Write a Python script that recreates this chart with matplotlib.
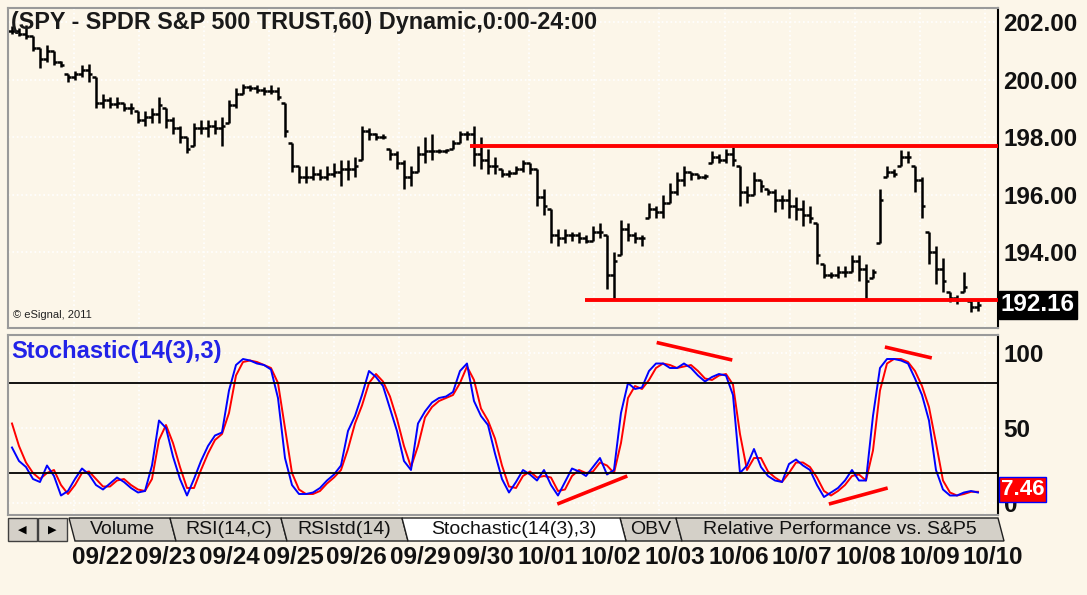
import numpy as np
import matplotlib.pyplot as plt
from matplotlib.patches import Polygon, Rectangle

# hourly SPY bars
high = [201.85, 201.8, 201.9, 201.5, 201.1, 201.2, 201.0, 200.65, 200.2, 200.3,
        200.5, 200.55, 200.1, 199.5, 199.4, 199.4, 199.2, 199.2, 198.9, 198.9,
        199.0, 199.4, 199.0, 198.7, 198.4, 198.0, 198.5, 198.6, 198.6, 198.6,
        198.7, 199.3, 199.7, 199.85, 199.8, 199.8, 199.75, 199.8, 199.75, 199.2,
        197.8, 197.0, 197.0, 197.0, 196.9, 197.0, 197.1, 197.2, 197.2, 197.3,
        198.4, 198.3, 198.15, 198.1, 197.6, 197.5, 197.2, 197.0, 197.7, 198.0,
        198.1, 197.6, 197.6, 197.9, 198.2, 198.2, 198.4, 198.0, 197.6, 197.3,
        196.9, 196.85, 197.0, 197.2, 197.1, 196.9, 196.2, 195.5, 194.8, 194.8,
        194.7, 194.7, 194.6, 194.9, 195.0, 194.6, 194.0, 195.1, 195.0, 194.7,
        194.6, 195.7, 195.6, 196.0, 196.4, 196.8, 197.0, 196.8, 196.7, 196.7,
        197.5, 197.4, 197.6, 197.65, 197.0, 196.3, 196.8, 196.5, 196.2, 196.2,
        196.0, 196.2, 195.9, 195.8, 195.6, 195.0, 193.6, 193.3, 193.5, 193.5,
        193.9, 193.9, 193.6, 193.4, 196.2, 197.0, 196.9, 197.55, 197.5, 197.0,
        196.6, 194.7, 194.2, 193.8, 192.6, 192.5, 193.3, 192.3, 192.3]
low = [201.6, 201.5, 201.4, 201.0, 200.4, 200.6, 200.5, 200.45, 199.9, 200.0,
       200.1, 199.9, 199.0, 199.0, 199.0, 199.0, 198.9, 198.8, 198.5, 198.4,
       198.5, 198.5, 198.3, 198.1, 197.8, 197.45, 197.7, 198.1, 198.0, 198.1,
       197.7, 198.5, 199.0, 199.5, 199.6, 199.55, 199.45, 199.5, 199.3, 198.0,
       196.8, 196.4, 196.4, 196.5, 196.5, 196.5, 196.6, 196.3, 196.5, 196.6,
       197.2, 197.9, 197.9, 197.95, 197.2, 196.9, 196.2, 196.3, 196.8, 197.1,
       197.2, 197.45, 197.45, 197.6, 197.8, 197.9, 197.0, 196.9, 196.7, 196.7,
       196.6, 196.6, 196.7, 196.8, 196.7, 195.6, 195.3, 194.3, 194.2, 194.3,
       194.4, 194.3, 194.3, 194.4, 194.5, 192.7, 192.35, 193.9, 194.4, 194.3,
       194.2, 195.2, 195.2, 195.2, 195.7, 196.0, 196.3, 196.5, 196.55, 196.55,
       197.1, 197.1, 197.1, 197.0, 195.6, 195.7, 196.0, 196.1, 196.0, 195.4,
       195.5, 195.2, 195.1, 194.9, 195.0, 193.6, 193.1, 193.1, 193.1, 193.15,
       193.3, 193.0, 192.35, 193.1, 194.3, 196.6, 196.6, 197.0, 197.1, 196.1,
       195.2, 193.6, 192.9, 192.6, 192.25, 192.2, 192.6, 191.9, 191.95]
close = [201.7, 201.6, 201.5, 201.1, 200.7, 201.0, 200.6, 200.5, 200.1, 200.2,
         200.35, 200.2, 199.2, 199.3, 199.15, 199.2, 199.0, 199.0, 198.6, 198.7,
         198.8, 199.1, 198.6, 198.3, 198.0, 197.6, 198.3, 198.3, 198.4, 198.3,
         198.4, 199.1, 199.5, 199.75, 199.7, 199.65, 199.6, 199.6, 199.4, 198.2,
         197.0, 196.6, 196.6, 196.7, 196.6, 196.7, 196.8, 196.9, 196.9, 197.0,
         198.2, 198.1, 198.0, 198.0, 197.4, 197.1, 196.6, 196.8, 197.4, 197.5,
         197.5, 197.5, 197.55, 197.8, 198.1, 198.1, 197.4, 197.2, 197.0, 197.0,
         196.7, 196.75, 196.9, 197.1, 196.9, 195.9, 195.6, 194.6, 194.5, 194.6,
         194.6, 194.5, 194.4, 194.7, 194.7, 193.2, 193.7, 194.8, 194.6, 194.5,
         194.5, 195.5, 195.4, 195.7, 196.1, 196.5, 196.8, 196.7, 196.6, 196.65,
         197.3, 197.2, 197.4, 197.2, 196.1, 196.0, 196.5, 196.3, 196.1, 195.8,
         195.8, 195.6, 195.5, 195.3, 195.2, 193.9, 193.2, 193.2, 193.3, 193.3,
         193.7, 193.4, 193.0, 193.3, 195.8, 196.8, 196.7, 197.3, 197.3, 196.5,
         195.6, 194.0, 193.4, 193.0, 192.4, 192.35, 192.8, 192.1, 192.16]

# Stochastic(14(3),3): %K blue, %D red
stoch_k = [37, 28, 24, 16, 14, 25, 18, 5, 8, 16, 23, 19, 12, 9, 13, 17, 14, 10, 7, 8,
           25, 55, 50, 31, 16, 5, 16, 28, 38, 45, 47, 75, 92, 96, 95, 93, 92, 89, 70, 30,
           12, 6, 6, 7, 10, 15, 19, 25, 48, 58, 72, 88, 84, 78, 63, 48, 28, 22, 53, 61,
           67, 70, 71, 74, 88, 93, 68, 58, 52, 33, 16, 7, 14, 22, 19, 15, 22, 12, 5, 14,
           23, 21, 18, 24, 30, 19, 22, 60, 80, 76, 77, 88, 93, 93, 90, 90, 93, 90, 85, 81,
           84, 86, 85, 72, 20, 25, 36, 24, 18, 15, 14, 26, 29, 25, 22, 12, 4, 7, 10, 15,
           22, 15, 15, 58, 90, 96, 96, 95, 93, 83, 72, 55, 22, 9, 5, 5, 7, 8, 7]
stoch_d = [53, 38, 27, 20, 16, 20, 22, 12, 6, 12, 20, 21, 16, 11, 11, 15, 16, 12, 9, 8,
           16, 42, 52, 40, 24, 10, 10, 22, 33, 42, 46, 60, 85, 94, 95, 94, 92, 90, 80, 50,
           20, 9, 6, 6, 8, 13, 17, 22, 36, 53, 65, 80, 86, 81, 71, 56, 38, 24, 38, 57,
           64, 68, 70, 72, 80, 91, 82, 63, 55, 43, 25, 11, 10, 18, 21, 17, 18, 17, 8, 9,
           18, 22, 20, 21, 27, 25, 20, 40, 70, 78, 76, 82, 90, 93, 92, 90, 91, 92, 88, 83,
           82, 85, 86, 79, 46, 22, 30, 30, 21, 17, 14, 20, 27, 27, 24, 17, 8, 5, 8, 12,
           18, 19, 15, 35, 75, 93, 96, 96, 94, 88, 78, 64, 40, 15, 7, 5, 6, 7.5, 7.46]

price_ticks = [202, 200, 198, 196, 194]
stoch_ticks = [100, 50, 0]
dates = ['09/22', '09/23', '09/24', '09/25', '09/26', '09/29', '09/30', '10/01',
         '10/02', '10/03', '10/06', '10/07', '10/08', '10/09', '10/10']
tabs = ['Volume', 'RSI(14,C)', 'RSIstd(14)', 'Stochastic(14(3),3)', 'OBV',
        'Relative Performance vs. S&P5']
tab_edges = [69, 170, 281, 402, 620, 676, 998]

# hand drawn lines
levels = [197.69, 192.33]
level_start = [65.4, 81.9]
div_x = [(77.9, 87.9), (92.1, 102.9), (116.7, 125.1), (124.7, 131.4)]
div_y = [(-0.7, 18), (107, 95.3), (-0.7, 10), (104, 96.7)]

bg = '#fcf6e9'
W, H = 1087, 595
fig = plt.figure(figsize=(W / 100, H / 100), dpi=100, facecolor=bg)

def fx(x):
    return x / W

def fy(y):
    return 1 - y / H

ax1 = fig.add_axes([fx(8), fy(328), 990 / W, 320 / H], facecolor=bg)
ax2 = fig.add_axes([fx(8), fy(515), 990 / W, 180 / H], facecolor=bg)

n = len(close)
idx = np.arange(n)
opens = np.clip(np.r_[close[0], close[:-1]], low, high)
xmax = 140.86

# price bars
ax1.vlines(idx, low, high, color='black', lw=1.8)
ax1.hlines(close, idx, idx + 0.5, color='black', lw=1.8)
ax1.hlines(opens, idx - 0.5, idx, color='black', lw=1.8)
for lv, s in zip(levels, level_start):
    ax1.hlines(lv, s, xmax, color='#ff0000', lw=2.8, zorder=3)
ax1.set_xlim(-0.57, xmax)
ax1.set_ylim(191.36, 202.49)

# stochastic
ax2.plot(idx, stoch_d, color='#ff0000', lw=1.4)
ax2.plot(idx, stoch_k, color='#0000ff', lw=1.4)
ax2.axhline(80, color='black', lw=1.3)
ax2.axhline(20, color='black', lw=1.3)
for (x0, x1), (y0, y1) in zip(div_x, div_y):
    ax2.plot([x0, x1], [y0, y1], color='#ff0000', lw=2.6, solid_capstyle='butt')
ax2.set_xlim(-0.57, xmax)
ax2.set_ylim(-8, 112)

for ax, ticks, fmt in [(ax1, price_ticks, '{:.2f}'), (ax2, stoch_ticks, '{:d}')]:
    ax.yaxis.tick_right()
    ax.set_yticks(ticks)
    ax.set_yticklabels([fmt.format(t) for t in ticks], fontsize=17.5,
                       fontweight='bold', family='Liberation Sans', color='#111111')
    ax.tick_params(axis='y', length=0, pad=4)
    ax.set_xticks(np.arange(-0.5, xmax, 9.3))
    ax.tick_params(axis='x', length=0, labelbottom=False)
    ax.grid(True, color='white', ls=':', lw=1.2)
    for sp in ['left', 'top', 'bottom']:
        ax.spines[sp].set_color('#9a9a9a')
        ax.spines[sp].set_linewidth(1.5)
    ax.spines['right'].set_color('black')
    ax.spines['right'].set_linewidth(1.5)

# last value labels
ax1.text(1.003, close[-1], '{:.2f}'.format(close[-1]), transform=ax1.get_yaxis_transform(),
         ha='left', va='center', color='white', fontsize=17.5, fontweight='bold',
         family='Liberation Sans',
         bbox=dict(boxstyle='square,pad=0.1', fc='black', ec='black'))
ax2.text(1.003, stoch_d[-1] + 1.5, '{:.2f}'.format(stoch_d[-1]),
         transform=ax2.get_yaxis_transform(), ha='left', va='center', color='white',
         fontsize=16, fontweight='bold', family='Liberation Sans',
         bbox=dict(boxstyle='square,pad=0.08', fc='#ff0000', ec='#0000ff'))

ax1.text(0.003, 0.99, '(SPY - SPDR S&P 500 TRUST,60) Dynamic,0:00-24:00',
         transform=ax1.transAxes, ha='left', va='top', fontsize=16.8,
         fontweight='bold', family='Liberation Sans', color='#1a1a1a')
ax1.text(0.005, 0.025, '\u00a9 eSignal, 2011', transform=ax1.transAxes, ha='left',
         va='bottom', fontsize=8, family='Liberation Sans', color='#222222')
ax2.text(0.003, 0.97, 'Stochastic(14(3),3)', transform=ax2.transAxes, ha='left',
         va='top', fontsize=17, fontweight='bold', family='Liberation Sans',
         color='#2222e8')

# tab strip
top, bot = 518, 541
for x0, x1 in [(8, 37), (38, 67)]:
    fig.patches.append(Rectangle((fx(x0), fy(bot)), (x1 - x0) / W, (bot - top) / H,
                                 transform=fig.transFigure, fc='#d4d0c8', ec='#404040', lw=1))
fig.text(fx(22), fy(529.5), '\u25c0', ha='center', va='center', fontsize=8,
         family='DejaVu Sans')
fig.text(fx(52), fy(529.5), '\u25b6', ha='center', va='center', fontsize=8,
         family='DejaVu Sans')
for k, name in enumerate(tabs):
    x0, x1 = tab_edges[k], tab_edges[k + 1]
    active = k == 3
    pts = [(fx(x0), fy(top)), (fx(x1), fy(top)), (fx(x1 + 6), fy(bot)), (fx(x0 + 6), fy(bot))]
    fig.patches.append(Polygon(pts, closed=True, transform=fig.transFigure,
                               fc='white' if active else '#d4d0c8', ec='#202020', lw=1,
                               zorder=2 if active else 1))
    fig.text(fx((x0 + x1) / 2 + 3), fy(530), name, ha='center', va='center',
             fontsize=14, family='Liberation Sans', color='#111111', zorder=3)

# date labels
centers = np.linspace(102, 993, len(dates))
for c, d in zip(centers, dates):
    fig.text(fx(c), fy(557), d, ha='center', va='center', fontsize=17.5,
             fontweight='bold', family='Liberation Sans', color='#111111')

fig.savefig('out.png', dpi=100, facecolor=bg)
